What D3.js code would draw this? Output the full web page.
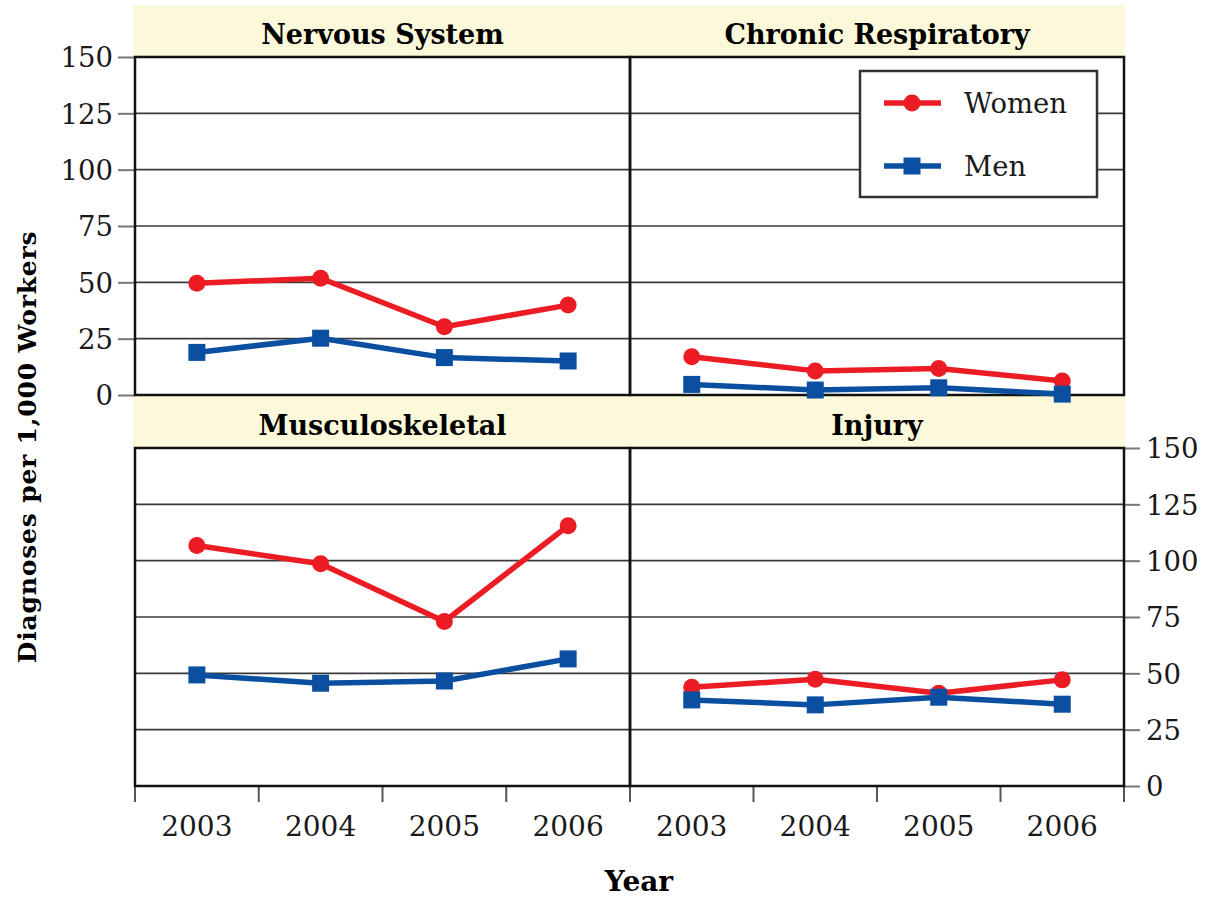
<!DOCTYPE html>
<html>
<head>
<meta charset="utf-8">
<script src="https://cdn.jsdelivr.net/npm/d3@7"></script>
<style>
  html, body { margin: 0; padding: 0; background: #fff; }
  svg { display: block; }
</style>
</head>
<body>
<svg id="chart" width="1207" height="899"></svg>
<script>
// ---- data ----
const years = ["2003", "2004", "2005", "2006"];
const panelTitles = ["Nervous System", "Chronic Respiratory", "Musculoskeletal", "Injury"];
const seriesNames = ["Women", "Men"];
const womenNervous = [49.6, 51.8, 30.3, 39.9];
const menNervous = [18.9, 25.2, 16.6, 15.1];
const womenRespiratory = [17.0, 10.7, 11.8, 6.2];
const menRespiratory = [4.7, 2.2, 3.2, 0.4];
const womenMusculo = [106.7, 98.6, 73.0, 115.5];
const menMusculo = [49.3, 45.6, 46.6, 56.4];
const womenInjury = [43.8, 47.4, 41.2, 47.1];
const menInjury = [38.2, 36.0, 39.4, 36.3];
const yTicks = [0, 25, 50, 75, 100, 125, 150];

const womenSeries = [womenNervous, womenRespiratory, womenMusculo, womenInjury];
const menSeries = [menNervous, menRespiratory, menMusculo, menInjury];

// ---- style ----
const RED = "#ec1c24";
const BLUE = "#0b4fa0";
const STRIP = "#fbf9d9";
const GRID = "#3a3a3a";
const SERIF = "'DejaVu Serif', 'Liberation Serif', serif";

const svg = d3.select("#chart");

// layout
const colX = [[135, 630], [630, 1124]];
const rowY = [[57, 395], [448, 786]];
const stripH = 52;

const panels = panelTitles.map((t, i) => {
  const c = i % 2, r = Math.floor(i / 2);
  const x = d3.scaleBand().domain(years).range(colX[c]);
  const y = d3.scaleLinear().domain([0, 150]).range([rowY[r][1], rowY[r][0]]);
  return { title: t, i, c, r, x, y, women: womenSeries[i], men: menSeries[i] };
});

const gBack = svg.append("g");
const gFront = svg.append("g");

// strips
[0, 1].forEach(r => {
  gBack.append("rect")
    .attr("x", 133).attr("y", rowY[r][0] - stripH)
    .attr("width", 1125 - 133).attr("height", stripH)
    .attr("fill", STRIP);
});

panels.forEach(p => {
  const [x0, x1] = p.x.range();
  const [yb, yt] = p.y.range();
  const g = gBack.append("g");
  g.append("rect").attr("x", x0).attr("y", yt).attr("width", x1 - x0).attr("height", yb - yt).attr("fill", "#fff");
  // gridlines
  g.selectAll("line.grid").data(yTicks.filter(v => v > 0 && v < 150)).join("line")
    .attr("x1", x0).attr("x2", x1)
    .attr("y1", d => p.y(d)).attr("y2", d => p.y(d))
    .attr("stroke", GRID).attr("stroke-width", 1.6);
  // title
  g.append("text")
    .attr("x", (x0 + x1) / 2).attr("y", yt - 13)
    .attr("text-anchor", "middle")
    .attr("font-family", SERIF).attr("font-weight", "bold").attr("font-size", 27)
    .attr("fill", "#000")
    .text(p.title);
});

// y axes: left for top-left, right for bottom-right
function styleAxis(sel) {
  sel.select(".domain").remove();
  sel.selectAll(".tick line").attr("stroke", "#777").attr("stroke-width", 2);
  sel.selectAll(".tick text").attr("font-family", SERIF).attr("font-size", 27.5).attr("fill", "#1a1a1a");
}
{
  const p = panels[0];
  const ax = gBack.append("g").attr("transform", `translate(${p.x.range()[0]},0)`)
    .call(d3.axisLeft(p.y).tickValues(yTicks).tickSize(17).tickPadding(5));
  styleAxis(ax);
  ax.selectAll(".tick text").attr("dy", "0.36em");
}
{
  const p = panels[3];
  const ax = gBack.append("g").attr("transform", `translate(${p.x.range()[1]},0)`)
    .call(d3.axisRight(p.y).tickValues(yTicks).tickSize(16).tickPadding(6));
  styleAxis(ax);
  ax.selectAll(".tick text").attr("dy", "0.36em");
}
// x axes at the bottom panels
[2, 3].forEach(i => {
  const p = panels[i];
  const yb = p.y.range()[0];
  const g = gBack.append("g");
  const bounds = years.map(d => p.x(d)).concat([p.x.range()[1]]);
  g.selectAll("line.xt").data(bounds).join("line")
    .attr("x1", d => d).attr("x2", d => d)
    .attr("y1", yb).attr("y2", yb + 16)
    .attr("stroke", "#555").attr("stroke-width", 2);
  g.selectAll("text.xl").data(years).join("text")
    .attr("x", d => p.x(d) + p.x.bandwidth() / 2)
    .attr("y", yb + 50)
    .attr("text-anchor", "middle")
    .attr("font-family", SERIF).attr("font-size", 28).attr("fill", "#1a1a1a")
    .text(d => d);
});

// panel borders
panels.forEach(p => {
  const [x0, x1] = p.x.range();
  const [yb, yt] = p.y.range();
  gBack.append("rect").attr("x", x0).attr("y", yt).attr("width", x1 - x0).attr("height", yb - yt)
    .attr("fill", "none").attr("stroke", "#111").attr("stroke-width", 2.5);
});

// series
const SQ = 17, CR = 8.5, LW = 5.5;
panels.forEach(p => {
  const cx = d => p.x(d) + p.x.bandwidth() / 2;
  const line = d3.line().x((d, k) => cx(years[k])).y(d => p.y(d));
  gFront.append("path").attr("d", line(p.women)).attr("fill", "none")
    .attr("stroke", RED).attr("stroke-width", LW).attr("stroke-linejoin", "round");
  gFront.append("path").attr("d", line(p.men)).attr("fill", "none")
    .attr("stroke", BLUE).attr("stroke-width", LW).attr("stroke-linejoin", "round");
});
panels.forEach(p => {
  const cx = d => p.x(d) + p.x.bandwidth() / 2;
  gFront.selectAll(null).data(p.women).join("circle")
    .attr("cx", (d, k) => cx(years[k])).attr("cy", d => p.y(d)).attr("r", CR).attr("fill", RED);
  gFront.selectAll(null).data(p.men).join("rect")
    .attr("x", (d, k) => cx(years[k]) - SQ / 2).attr("y", d => p.y(d) - SQ / 2)
    .attr("width", SQ).attr("height", SQ).attr("fill", BLUE);
});

// legend
const lg = gFront.append("g");
lg.append("rect").attr("x", 860).attr("y", 71).attr("width", 237).attr("height", 126)
  .attr("fill", "#fff").attr("stroke", "#333").attr("stroke-width", 2.5);
const legendItems = [
  { name: seriesNames[0], color: RED, shape: "circle", y: 103 },
  { name: seriesNames[1], color: BLUE, shape: "square", y: 166 }
];
legendItems.forEach(it => {
  lg.append("line").attr("x1", 884).attr("x2", 941).attr("y1", it.y).attr("y2", it.y)
    .attr("stroke", it.color).attr("stroke-width", LW);
  if (it.shape === "circle") {
    lg.append("circle").attr("cx", 912).attr("cy", it.y).attr("r", CR).attr("fill", it.color);
  } else {
    lg.append("rect").attr("x", 912 - SQ / 2).attr("y", it.y - SQ / 2).attr("width", SQ).attr("height", SQ).attr("fill", it.color);
  }
  lg.append("text").attr("x", 964).attr("y", it.y + 10)
    .attr("font-family", SERIF).attr("font-size", 27.5).attr("fill", "#1a1a1a").text(it.name);
});

// axis titles
svg.append("text")
  .attr("transform", "translate(36,447) rotate(-90)")
  .attr("text-anchor", "middle")
  .attr("font-family", SERIF).attr("font-weight", "bold").attr("font-size", 25)
  .attr("letter-spacing", 0.8)
  .attr("fill", "#000")
  .text("Diagnoses per 1,000 Workers");
svg.append("text")
  .attr("x", 639).attr("y", 891)
  .attr("text-anchor", "middle")
  .attr("font-family", SERIF).attr("font-weight", "bold").attr("font-size", 28)
  .attr("fill", "#000")
  .text("Year");
</script>
</body>
</html>
